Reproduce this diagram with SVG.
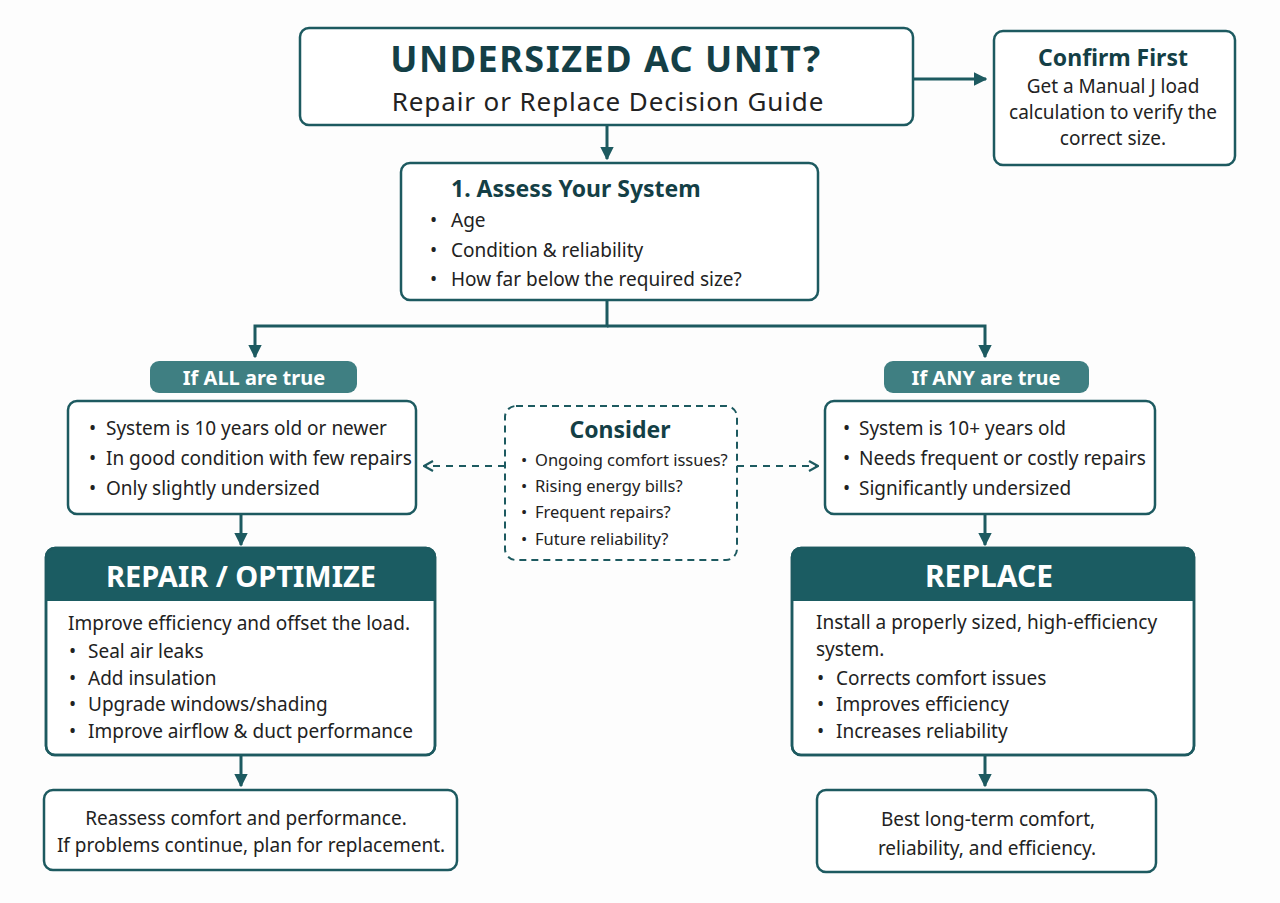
<svg xmlns="http://www.w3.org/2000/svg" width="1280" height="903" viewBox="0 0 1280 903">
<defs>
<marker id="tri" viewBox="0 0 10 10" refX="9" refY="5" markerWidth="4.5" markerHeight="4.5" orient="auto" markerUnits="strokeWidth">
<path d="M0,0 L10,5 L0,10 z" fill="#1d5a60"/>
</marker>
<marker id="chev" viewBox="0 0 12 12" refX="11" refY="6" markerWidth="12" markerHeight="12" orient="auto" markerUnits="userSpaceOnUse">
<path d="M2,1 L11,6 L2,11" fill="none" stroke="#1d5a60" stroke-width="2.2"/>
</marker>
</defs>
<style>
.box{fill:#fff;stroke:#1d5a60;stroke-width:2.5}
.dash{fill:#fff;stroke:#1d5a60;stroke-width:2;stroke-dasharray:7 5}
.hdr{fill:#1b5c62}
.pill{fill:#3f7f82}
.ln{fill:none;stroke:#1d5a60;stroke-width:3}
.dl{fill:none;stroke:#1d5a60;stroke-width:2;stroke-dasharray:7 6}
text{font-family:"Noto Sans","Open Sans","Liberation Sans",sans-serif;fill:#222}
.t{font-size:19px}
.s{font-size:16.5px}
.b{font-weight:bold;fill:#143f46}
.w{font-weight:bold;fill:#fff}
.c{text-anchor:middle}
</style>
<rect width="1280" height="903" fill="#fdfdfd"/>
<g id="connectors">
<path class="ln" d="M913,79 H986" marker-end="url(#tri)"/>
<path class="ln" d="M607,125 V159" marker-end="url(#tri)"/>
<path class="ln" d="M607,300 V326 H255 V357" marker-end="url(#tri)"/>
<path class="ln" d="M607,326 H985 V357" marker-end="url(#tri)"/>
<path class="dl" d="M505,466 H424" marker-end="url(#chev)"/>
<path class="dl" d="M737,466 H818" marker-end="url(#chev)"/>
<path class="ln" d="M241,514 V545" marker-end="url(#tri)"/>
<path class="ln" d="M985,514 V545" marker-end="url(#tri)"/>
<path class="ln" d="M241,755 V786" marker-end="url(#tri)"/>
<path class="ln" d="M985,755 V786" marker-end="url(#tri)"/>
</g>
<g id="title">
<rect class="box" x="300" y="28" width="613" height="97" rx="9"/>
<text class="b c" x="606" y="72" font-size="36" letter-spacing="1.5">UNDERSIZED AC UNIT?</text>
<text class="c" x="608" y="111" font-size="26" letter-spacing="0.9">Repair or Replace Decision Guide</text>
</g>
<g id="confirm">
<rect class="box" x="994" y="31" width="241" height="134" rx="9"/>
<text class="b c" x="1113" y="66" font-size="23">Confirm First</text>
<text class="c" x="1113" y="93" font-size="19">Get a Manual J load</text>
<text class="c" x="1113" y="119" font-size="19">calculation to verify the</text>
<text class="c" x="1113" y="145" font-size="19">correct size.</text>
</g>
<g id="assess">
<rect class="box" x="401" y="163" width="417" height="137" rx="9"/>
<text class="b" x="451" y="197" font-size="23">1. Assess Your System</text>
<text class="t" x="430" y="227">•</text><text class="t" x="451" y="227">Age</text>
<text class="t" x="430" y="257">•</text><text class="t" x="451" y="257">Condition &amp; reliability</text>
<text class="t" x="430" y="286">•</text><text class="t" x="451" y="286">How far below the required size?</text>
</g>
<g id="if-all">
<rect class="pill" x="150" y="361" width="207" height="32" rx="9"/>
<text class="w c" x="254" y="385" font-size="20">If ALL are true</text>
</g>
<g id="if-any">
<rect class="pill" x="884" y="361" width="205" height="32" rx="9"/>
<text class="w c" x="986" y="385" font-size="20">If ANY are true</text>
</g>
<g id="all-conditions">
<rect class="box" x="68" y="401" width="348" height="113" rx="9"/>
<text class="t" x="89" y="435">•</text><text class="t" x="106" y="435">System is 10 years old or newer</text>
<text class="t" x="89" y="465">•</text><text class="t" x="106" y="465">In good condition with few repairs</text>
<text class="t" x="89" y="495">•</text><text class="t" x="106" y="495">Only slightly undersized</text>
</g>
<g id="any-conditions">
<rect class="box" x="825" y="401" width="330" height="113" rx="9"/>
<text class="t" x="843" y="435">•</text><text class="t" x="859" y="435">System is 10+ years old</text>
<text class="t" x="843" y="465">•</text><text class="t" x="859" y="465">Needs frequent or costly repairs</text>
<text class="t" x="843" y="495">•</text><text class="t" x="859" y="495">Significantly undersized</text>
</g>
<g id="consider">
<rect class="dash" x="505" y="406" width="232" height="154" rx="11"/>
<text class="b c" x="620" y="438" font-size="23">Consider</text>
<text class="s" x="521" y="466">•</text><text class="s" x="535" y="466">Ongoing comfort issues?</text>
<text class="s" x="521" y="492">•</text><text class="s" x="535" y="492">Rising energy bills?</text>
<text class="s" x="521" y="518">•</text><text class="s" x="535" y="518">Frequent repairs?</text>
<text class="s" x="521" y="545">•</text><text class="s" x="535" y="545">Future reliability?</text>
</g>
<g id="repair">
<rect class="box" x="46" y="548" width="389" height="207" rx="9"/>
<path class="hdr" d="M55,548 H426 A9,9 0 0 1 435,557 V601 H46 V557 A9,9 0 0 1 55,548 Z"/>
<rect x="46" y="548" width="389" height="207" rx="9" fill="none" stroke="#1d5a60" stroke-width="2.5"/>
<text class="w c" x="241" y="587" font-size="29">REPAIR / OPTIMIZE</text>
<text class="t" x="68" y="630">Improve efficiency and offset the load.</text>
<text class="t" x="69" y="658">•</text><text class="t" x="88" y="658">Seal air leaks</text>
<text class="t" x="69" y="685">•</text><text class="t" x="88" y="685">Add insulation</text>
<text class="t" x="69" y="711">•</text><text class="t" x="88" y="711">Upgrade windows/shading</text>
<text class="t" x="69" y="738">•</text><text class="t" x="88" y="738">Improve airflow &amp; duct performance</text>
</g>
<g id="replace">
<rect class="box" x="792" y="548" width="402" height="207" rx="9"/>
<path class="hdr" d="M801,548 H1185 A9,9 0 0 1 1194,557 V601 H792 V557 A9,9 0 0 1 801,548 Z"/>
<rect x="792" y="548" width="402" height="207" rx="9" fill="none" stroke="#1d5a60" stroke-width="2.5"/>
<text class="w c" x="989" y="587" font-size="30">REPLACE</text>
<text class="t" x="816" y="629">Install a properly sized, high-efficiency</text>
<text class="t" x="816" y="656">system.</text>
<text class="t" x="817" y="685">•</text><text class="t" x="836" y="685">Corrects comfort issues</text>
<text class="t" x="817" y="711">•</text><text class="t" x="836" y="711">Improves efficiency</text>
<text class="t" x="817" y="738">•</text><text class="t" x="836" y="738">Increases reliability</text>
</g>
<g id="reassess">
<rect class="box" x="44" y="790" width="413" height="80" rx="9"/>
<text class="t c" x="246" y="825">Reassess comfort and performance.</text>
<text class="t c" x="251" y="852">If problems continue, plan for replacement.</text>
</g>
<g id="best">
<rect class="box" x="817" y="790" width="339" height="82" rx="9"/>
<text class="t c" x="988" y="826">Best long-term comfort,</text>
<text class="t c" x="987" y="855">reliability, and efficiency.</text>
</g>
</svg>
